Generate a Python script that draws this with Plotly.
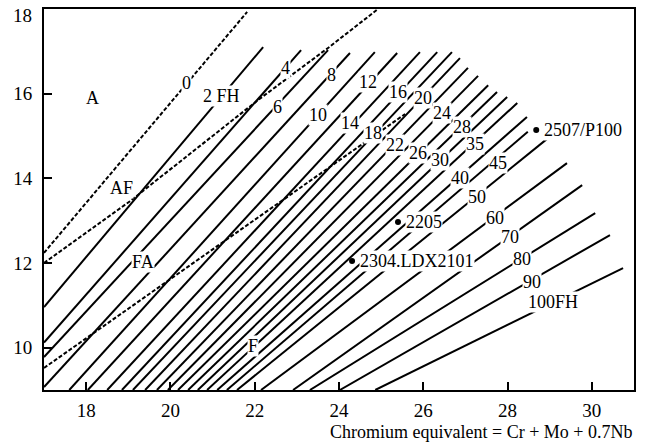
import plotly.graph_objects as go

# ---- iso-ferrite-number lines (Cr_eq, Ni_eq end points) ----
fn_names = ["2", "4", "6", "8", "10", "12", "14", "16", "18", "20", "22", "24",
            "26", "28", "30", "35", "40", "45", "50", "60", "70", "80", "90", "100"]
fn_x_start = [17.0, 17.0, 17.0, 17.0, 17.60, 18.04, 18.50, 18.85, 19.11, 19.40, 19.68, 19.94,
              20.18, 20.42, 20.65, 20.87, 21.11, 21.34, 21.58, 22.15, 22.91, 23.31, 24.02, 24.86]
fn_y_start = [10.96, 10.12, 9.78, 9.07, 9.0, 9.0, 9.0, 9.0, 9.0, 9.0, 9.0, 9.0,
              9.0, 9.0, 9.0, 9.0, 9.0, 9.0, 9.0, 9.0, 9.0, 9.0, 9.0, 9.0]
fn_x_end = [22.20, 23.10, 23.74, 24.26, 24.85, 25.38, 25.92, 26.33, 26.68, 26.87, 27.06, 27.30,
            27.54, 27.75, 27.99, 28.23, 28.46, 28.48, 28.96, 29.41, 29.77, 30.08, 30.43, 30.74]
fn_y_end = [17.10, 17.03, 17.03, 16.96, 16.98, 16.96, 16.98, 16.98, 16.98, 16.84, 16.61, 16.42,
            16.20, 16.04, 15.92, 15.78, 15.45, 15.10, 14.95, 14.36, 13.84, 13.18, 12.66, 11.88]

# labels written on the lines
fn_label_text = ["0", "2 FH", "4", "6", "8", "10", "12", "14", "16", "18", "20", "22", "24",
                 "26", "28", "30", "35", "40", "45", "50", "60", "70", "80", "90", "100FH"]
fn_label_x = [20.39, 21.20, 22.72, 22.55, 23.83, 23.50, 24.69, 24.26, 25.40, 24.81, 25.99, 25.33, 26.44,
              25.88, 26.92, 26.40, 27.23, 26.87, 27.77, 27.28, 27.70, 28.06, 28.34, 28.58, 29.08]
fn_label_y = [16.25, 15.95, 16.61, 15.69, 16.44, 15.50, 16.28, 15.31, 16.04, 15.07, 15.90, 14.79, 15.54,
              14.60, 15.21, 14.43, 14.81, 14.01, 14.36, 13.56, 13.06, 12.61, 12.09, 11.55, 11.08]

# dotted boundaries
zero_x = [17.0, 21.82]
zero_y = [12.24, 17.93]
af_fa_x = [17.0, 19.04, 22.08, 23.74, 24.90]
af_fa_y = [12.00, 13.46, 15.85, 17.08, 17.98]
fa_f_x = [17.0, 25.57]
fa_f_y = [9.52, 15.52]

# region names
region_names = ["A", "AF", "FA", "F"]
region_x = [18.16, 18.85, 19.35, 21.96]
region_y = [15.90, 13.77, 12.02, 10.05]

# alloys
alloy_names = ["2507/P100", "2205", "2304.LDX2101"]
alloy_cr = [28.68, 25.40, 24.31]
alloy_ni = [15.14, 12.97, 12.05]

x_ticks = [18, 20, 22, 24, 26, 28, 30]
y_ticks = [10, 12, 14, 16, 18]
y_tick_text = ["10", "12", "14", "16", ""]   # the top label "18" is drawn lower, as in the source
y_top_label = "18"

FONT = "Liberation Serif, Times New Roman, serif"

fig = go.Figure()

for i in range(len(fn_names)):
    fig.add_trace(go.Scatter(
        x=[fn_x_start[i], fn_x_end[i]], y=[fn_y_start[i], fn_y_end[i]],
        mode="lines", line=dict(color="black", width=2), hoverinfo="skip", showlegend=False))

for bx, by in [(zero_x, zero_y), (af_fa_x, af_fa_y), (fa_f_x, fa_f_y)]:
    fig.add_trace(go.Scatter(
        x=bx, y=by, mode="lines",
        line=dict(color="black", width=2, dash="4px,2px"),
        hoverinfo="skip", showlegend=False))

fig.add_trace(go.Scatter(
    x=alloy_cr, y=alloy_ni, mode="markers",
    marker=dict(color="black", size=6), hoverinfo="skip", showlegend=False))

annotations = []
for t, lx, ly in zip(fn_label_text, fn_label_x, fn_label_y):
    annotations.append(dict(x=lx, y=ly, xref="x", yref="y", text=t, showarrow=False,
                            font=dict(family=FONT, size=18, color="black"),
                            bgcolor="white", borderpad=0, xanchor="center", yanchor="middle"))
for t, lx, ly in zip(region_names, region_x, region_y):
    annotations.append(dict(x=lx, y=ly, xref="x", yref="y", text=t, showarrow=False,
                            font=dict(family=FONT, size=18, color="black"),
                            bgcolor="white", borderpad=0, xanchor="center", yanchor="middle"))
for t, lx, ly in zip(alloy_names, alloy_cr, alloy_ni):
    annotations.append(dict(x=lx, y=ly, xref="x", yref="y", text=t, showarrow=False,
                            font=dict(family=FONT, size=18, color="black"),
                            bgcolor="white", borderpad=0, xanchor="left", yanchor="middle",
                            xshift=7))
annotations.append(dict(x=0, y=1, xref="paper", yref="paper", text=y_top_label,
                        showarrow=False, font=dict(family=FONT, size=19, color="black"),
                        xanchor="right", yanchor="middle", xshift=-10, yshift=-6))
annotations.append(dict(x=1, y=0, xref="paper", yref="paper",
                        text="Chromium equivalent = Cr + Mo + 0.7Nb", showarrow=False,
                        font=dict(family=FONT, size=18, color="black"),
                        xanchor="right", yanchor="middle", yshift=-42))

axis_common = dict(showline=True, linecolor="black", linewidth=2, mirror=True,
                   ticks="inside", ticklen=8, tickwidth=1.5, tickcolor="black",
                   showgrid=False, zeroline=False, automargin=False,
                   tickfont=dict(family=FONT, size=19, color="black"))

fig.update_layout(
    width=652, height=445,
    margin=dict(l=44, r=18, t=9, b=55, autoexpand=False),
    paper_bgcolor="white", plot_bgcolor="white",
    xaxis=dict(range=[17, 31], tickvals=x_ticks, ticklabelstandoff=2, **axis_common),
    yaxis=dict(range=[9, 18], tickvals=y_ticks, ticktext=y_tick_text,
               ticklabelstandoff=6, **axis_common),
    annotations=annotations,
    showlegend=False,
)

fig.write_html("out.html", config={"displayModeBar": False},
               post_script="document.body.style.margin='0px';")
